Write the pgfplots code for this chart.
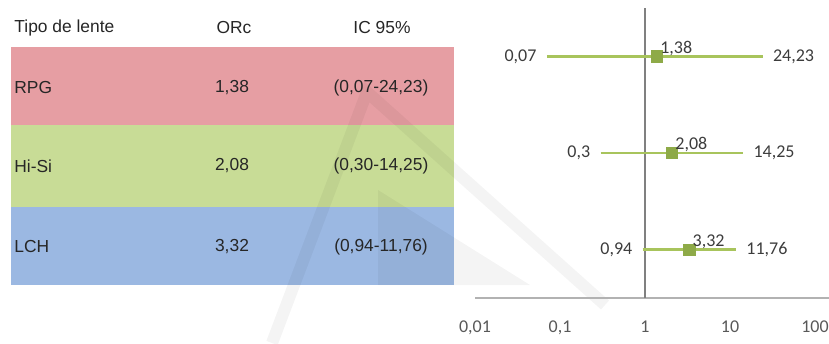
\documentclass[border=0pt]{standalone}
\usepackage{pgfplots}
\pgfplotsset{compat=1.18}
\usepackage{fontspec}
\setmainfont{Liberation Sans}
\newfontfamily\carlito{Carlito}
\definecolor{rowred}{RGB}{230,158,163}
\definecolor{rowgreen}{RGB}{200,220,150}
\definecolor{rowblue}{RGB}{155,184,226}
\definecolor{linegreen}{RGB}{168,196,92}
\definecolor{markgreen}{RGB}{142,170,72}
\definecolor{lbl}{RGB}{60,60,60}
\begin{document}
\begin{tikzpicture}
\begin{scope}[x=0.5pt,y=-0.5pt]
% table rows
\fill[rowred] (11,47) rectangle (454,125);
\fill[rowgreen] (11,125) rectangle (454,207);
\fill[rowblue] (11,207) rectangle (454,285);
% faint watermark
\begin{scope}[opacity=0.045]
\draw[line width=6pt, black] (272,343) -- (367,92) -- (605,305);
\fill[black] (378,190) -- (530,285) -- (378,285) -- cycle;
\end{scope}
% table text
\begin{scope}[every node/.style={inner sep=0pt, text=black!85, font=\fontsize{8.7}{10}\selectfont}]
\node[anchor=west] at (14,28) {Tipo de lente};
\node at (234,28) {ORc};
\node at (382,28) {IC 95\%};
\node[anchor=west] at (14,88) {RPG};
\node at (232,88) {1,38};
\node at (381,88) {(0,07-24,23)};
\node[anchor=west] at (14,166) {Hi-Si};
\node at (232,166) {2,08};
\node at (381,166) {(0,30-14,25)};
\node[anchor=west] at (14,247) {LCH};
\node at (232,247) {3,32};
\node at (381,247) {(0,94-11,76)};
\end{scope}
\end{scope}
\begin{axis}[
  at={(237.5pt,-149pt)}, anchor=south west,
  scale only axis, width=177pt, height=145pt,
  xmode=log, xmin=0.01, xmax=146, ymin=0.5, ymax=3.5,
  axis x line=bottom, axis y line=none,
  x axis line style={-, draw=black!30, line width=0.8pt},
  xtick={0.01,0.1,1,10,100},
  xticklabels={{0,01},{0,1},1,10,100},
  xminorticks=false,
  major tick length=0pt,
  xticklabel style={font=\carlito\fontsize{9}{10}\selectfont, text=black!65, yshift=-8pt},
  clip=false,
]
\draw[black!50, line width=0.6pt] (axis cs:1,0.5) -- (axis cs:1,3.5);
\addplot[linegreen, line width=1.3pt] coordinates {(0.07,3) (24.23,3)};
\addplot[linegreen, line width=1.3pt] coordinates {(0.3,2) (14.25,2)};
\addplot[linegreen, line width=1.3pt] coordinates {(0.94,1) (11.76,1)};
\addplot[only marks, mark=square*, mark size=2.8pt, draw=markgreen, fill=markgreen,
  nodes near coords, point meta=explicit symbolic,
  nodes near coords style={anchor=south west, inner sep=0pt, xshift=1.5pt, yshift=0.3pt,
    font=\carlito\fontsize{9}{10}\selectfont, text=lbl}]
  table[meta=lab, row sep=\\] {x y lab\\ 1.38 3 1,38\\ 2.08 2 2,08\\ 3.32 1 3,32\\};
\addplot[draw=none, mark=none,
  nodes near coords, point meta=explicit symbolic,
  nodes near coords style={anchor=east, inner sep=0pt, xshift=-5pt,
    font=\carlito\fontsize{9}{10}\selectfont, text=lbl}]
  table[meta=lab, row sep=\\] {x y lab\\ 0.07 3 0,07\\ 0.3 2 0,3\\ 0.94 1 0,94\\};
\addplot[draw=none, mark=none,
  nodes near coords, point meta=explicit symbolic,
  nodes near coords style={anchor=west, inner sep=0pt, xshift=5pt,
    font=\carlito\fontsize{9}{10}\selectfont, text=lbl}]
  table[meta=lab, row sep=\\] {x y lab\\ 24.23 3 24,23\\ 14.25 2 14,25\\ 11.76 1 11,76\\};
\end{axis}
\pgfresetboundingbox
\path[use as bounding box] (0,0) rectangle (414.5pt,-171.5pt);
\end{tikzpicture}
\end{document}
